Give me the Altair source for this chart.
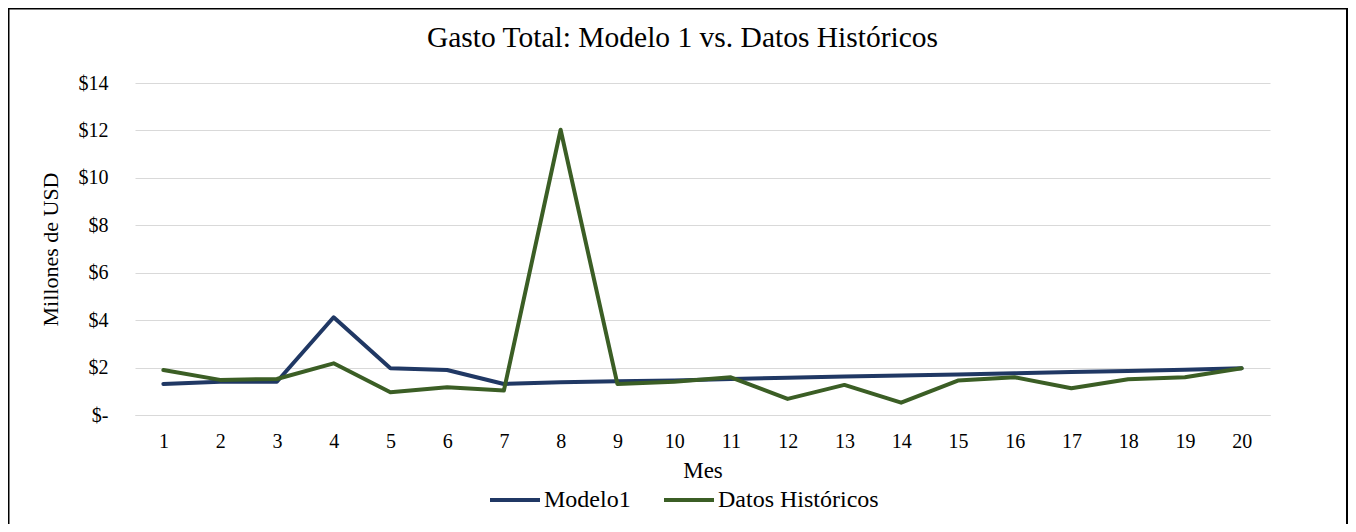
import altair as alt
import pandas as pd

meses = list(range(1, 21))
modelo1 = [1.31, 1.40, 1.40, 4.12, 1.97, 1.90, 1.31, 1.38, 1.42, 1.46,
           1.52, 1.57, 1.62, 1.67, 1.71, 1.76, 1.81, 1.86, 1.91, 1.97]
historicos = [1.90, 1.48, 1.52, 2.18, 0.96, 1.17, 1.03, 12.03, 1.31, 1.40,
              1.59, 0.68, 1.27, 0.52, 1.45, 1.59, 1.13, 1.51, 1.59, 1.97]
series = ["Modelo1", "Datos Históricos"]
colores = ["#203864", "#3B5E25"]
y_ticks = [0, 2, 4, 6, 8, 10, 12, 14]

titulo = "Gasto Total: Modelo 1 vs. Datos Históricos"
FONT = "Liberation Serif"

rows = []
for m, a, b in zip(meses, modelo1, historicos):
    rows.append({"Mes": m, "Serie": series[0], "Valor": a})
    rows.append({"Mes": m, "Serie": series[1], "Valor": b})
df = pd.DataFrame(rows)

x_enc = alt.X("Mes:O", title="Mes",
              scale=alt.Scale(type="point", padding=0.5),
              axis=alt.Axis(labelAngle=0, labelPadding=16, titlePadding=8,
                            titleFontSize=23,
                            ticks=False, domain=True, domainColor="#D9D9D9",
                            domainWidth=1, grid=False))
y_enc = alt.Y("Valor:Q", title="Millones de USD",
              scale=alt.Scale(domain=[0, 14], nice=False),
              axis=alt.Axis(values=y_ticks, labelExpr="datum.value == 0 ? '$-' : '$' + datum.value",
                            labelPadding=27, titlePadding=16, titleFontSize=22,
                            ticks=False, domain=False,
                            grid=True, gridColor="#D9D9D9", gridWidth=1))
color_enc = alt.Color("Serie:N", title=None,
                      scale=alt.Scale(domain=series, range=colores),
                      legend=alt.Legend(orient="none", legendX=353, legendY=390,
                                        direction="horizontal", symbolType="stroke",
                                        symbolSize=2500, symbolStrokeWidth=4,
                                        labelOffset=2, columnPadding=25, labelLimit=0,
                                        labelFont=FONT, labelFontSize=24,
                                        labelColor="black"))

frame = alt.Chart(alt.Data(values=[{}])).mark_rect(
    filled=False, stroke="black", strokeWidth=2
).encode(x=alt.value(-126.5), x2=alt.value(1212), y=alt.value(-74.5), y2=alt.value(470))

blue = alt.Chart(df).transform_filter(alt.datum.Serie == series[0]).mark_line(
    strokeWidth=4, strokeJoin="round", strokeCap="round"
).encode(x=x_enc, y=y_enc, color=color_enc)

green = alt.Chart(df).transform_filter(alt.datum.Serie == series[1]).mark_line(
    strokeWidth=4, strokeJoin="round", strokeCap="round"
).encode(x=x_enc, y=y_enc, color=color_enc)

chart = alt.layer(frame, blue, green).properties(
    width=1135, height=332,
    padding={"left": 127, "top": 75, "right": 78, "bottom": 109},
    autosize=alt.AutoSizeParams(type="none"),
    background="white",
    title=alt.TitleParams(titulo, font=FONT, fontSize=29.5, fontWeight="normal",
                          color="black", anchor="middle", offset=-46, dx=-20),
).configure_axis(
    labelFont=FONT, labelFontSize=20, labelColor="black",
    titleFont=FONT, titleFontWeight="normal", titleColor="black",
).configure_view(stroke=None)

chart.save("out.html", embed_options={"renderer": "svg", "actions": False})
